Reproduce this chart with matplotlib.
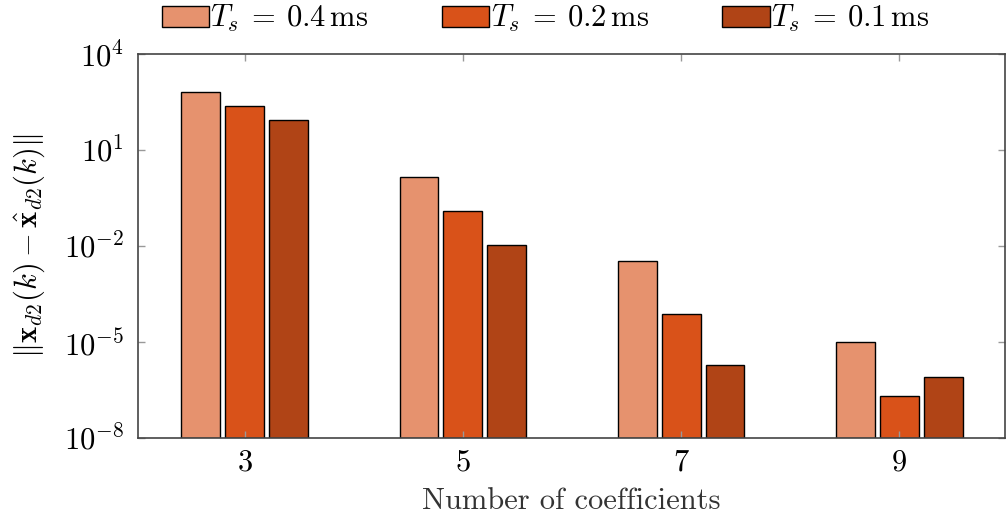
import numpy as np
import matplotlib
matplotlib.use("Agg")
import matplotlib.pyplot as plt

plt.rcParams['font.family'] = 'serif'
plt.rcParams['font.serif'] = ['cmr10', 'DejaVu Serif']
plt.rcParams['mathtext.fontset'] = 'cm'
plt.rcParams['axes.formatter.use_mathtext'] = True

# number of coefficients and error norm for each sampling time
coeffs = [3, 5, 7, 9]
err_04 = [6.5e2, 1.44, 3.5e-3, 9.8e-6]
err_02 = [2.3e2, 1.2e-1, 7.7e-5, 1.9e-7]
err_01 = [8.5e1, 1.07e-2, 1.95e-6, 8.1e-7]
labels = [r'$T_s\:=\:0.4\,\mathrm{ms}$', r'$T_s\:=\:0.2\,\mathrm{ms}$', r'$T_s\:=\:0.1\,\mathrm{ms}$']
colors = ['#E6926E', '#D95219', '#B04416']

fig = plt.figure(figsize=(10.07, 5.2), dpi=100)
ax = fig.add_axes([0.137, 0.158, 0.861, 0.738])

x = np.array(coeffs, dtype=float)
step = 0.403
width = 0.357
for i, (vals, lab, col) in enumerate(zip([err_04, err_02, err_01], labels, colors)):
    ax.bar(x + (i - 1) * step, vals, width=width, bottom=1e-8, color=col,
           edgecolor='black', linewidth=1.0, label=lab)

ax.set_yscale('log')
ax.set_ylim(1e-8, 1e4)
ax.set_xlim(2.02, 9.97)
ax.set_xticks(coeffs)
ax.set_yticks([1e-8, 1e-5, 1e-2, 1e1, 1e4])
ax.yaxis.set_minor_locator(matplotlib.ticker.NullLocator())
ax.tick_params(axis='both', which='major', direction='in', length=5, width=1,
               color='#999999', labelsize=22, top=True, right=True)
ax.tick_params(axis='y', pad=10)
ax.tick_params(axis='x', pad=8)
for s in ax.spines.values():
    s.set_color('#444444')
    s.set_linewidth(1.2)

ax.set_xlabel('Number of coefficients', fontsize=22, color='#333333', labelpad=8)
ax.set_ylabel(r'$\Vert\mathbf{x}_{d2}(k) - \hat{\mathbf{x}}_{d2}(k)\Vert$', fontsize=22, labelpad=12)

ax.legend(loc='lower center', bbox_to_anchor=(0.47, 1.0), ncol=3, frameon=False,
          fontsize=22, handlelength=1.55, handleheight=0.66, handletextpad=0.05,
          columnspacing=2.4, borderaxespad=0.25)

fig.savefig('out.png', dpi=100)
